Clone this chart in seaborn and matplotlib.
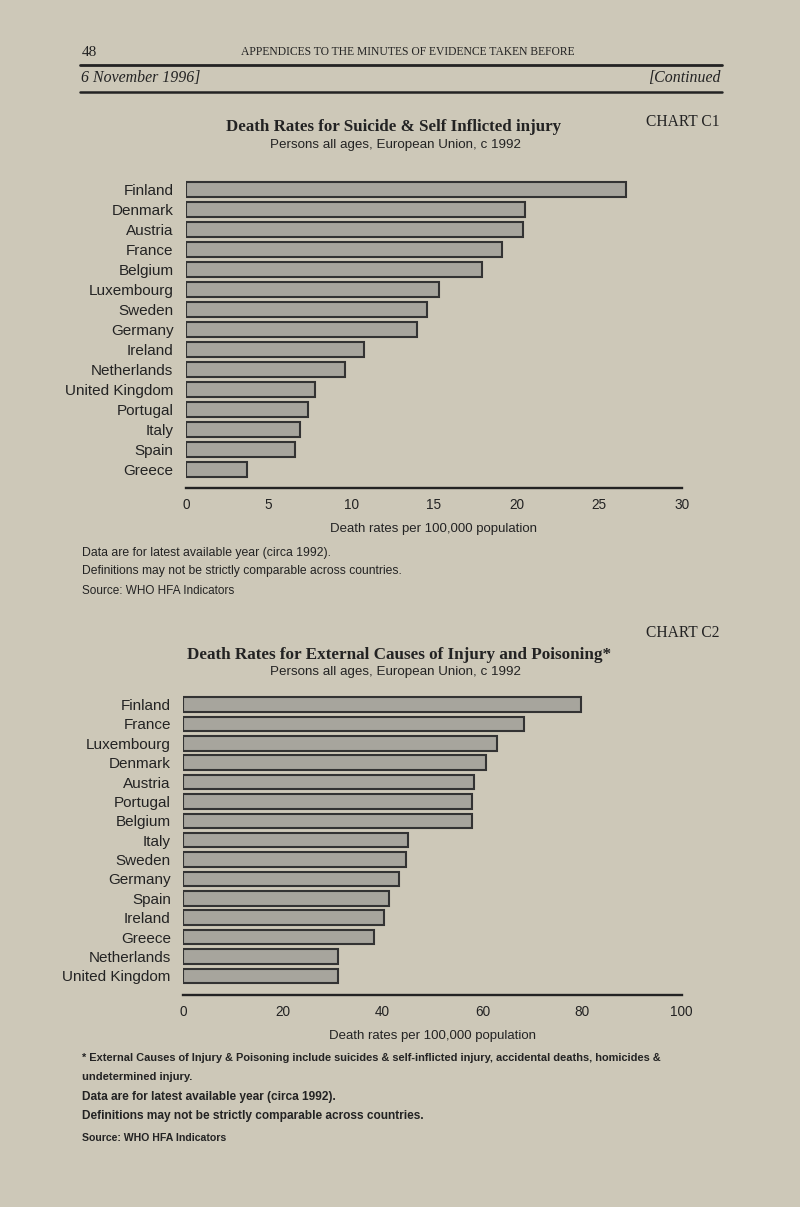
import matplotlib
matplotlib.use("Agg")
import matplotlib.pyplot as plt
import seaborn as sns
import pandas as pd
from matplotlib.lines import Line2D

# Chart C1: suicide & self inflicted injury, deaths per 100,000
c1_countries = ["Finland", "Denmark", "Austria", "France", "Belgium", "Luxembourg",
                "Sweden", "Germany", "Ireland", "Netherlands", "United Kingdom",
                "Portugal", "Italy", "Spain", "Greece"]
c1_rates = [26.6, 20.5, 20.4, 19.1, 17.9, 15.3, 14.6, 14.0, 10.8, 9.6, 7.8, 7.4, 6.9, 6.6, 3.7]
c1_ticks = [0, 5, 10, 15, 20, 25, 30]

# Chart C2: external causes of injury and poisoning, deaths per 100,000
c2_countries = ["Finland", "France", "Luxembourg", "Denmark", "Austria", "Portugal",
                "Belgium", "Italy", "Sweden", "Germany", "Spain", "Ireland",
                "Greece", "Netherlands", "United Kingdom"]
c2_rates = [79.8, 68.4, 62.9, 60.8, 58.3, 58.0, 57.9, 45.1, 44.6, 43.3, 41.3, 40.2, 38.3, 31.1, 31.1]
c2_ticks = [0, 20, 40, 60, 80, 100]

paper = "#cdc8b8"
bar_fill = "#a7a59d"
bar_edge = "#333333"
ink = "#232323"

sns.set_theme(style="white")
plt.rcParams["font.family"] = ["Liberation Sans", "DejaVu Sans"]
plt.rcParams["text.color"] = ink
plt.rcParams["axes.labelcolor"] = ink
plt.rcParams["xtick.color"] = ink
plt.rcParams["ytick.color"] = ink

W, H = 800, 1207
fig = plt.figure(figsize=(W / 100, H / 100), dpi=100)
fig.patch.set_facecolor(paper)


def px_axes(left, top, right, bottom):
    return fig.add_axes([left / W, 1 - bottom / H, (right - left) / W, (bottom - top) / H])


def txt(x, y, s, **kw):
    kw.setdefault("va", "center")
    fig.text(x / W, 1 - y / H, s, **kw)


def hline(x0, x1, y, lw):
    fig.add_artist(Line2D([x0 / W, x1 / W], [1 - y / H, 1 - y / H],
                          transform=fig.transFigure, color=ink, lw=lw))


def draw_chart(ax, countries, rates, ticks, ymax):
    df = pd.DataFrame({"country": countries, "rate": rates})
    sns.barplot(data=df, x="rate", y="country", orient="h", color=bar_fill,
                saturation=1, edgecolor=bar_edge, linewidth=1.5, width=0.75, ax=ax)
    ax.set_xlim(ticks[0], ticks[-1])
    ax.set_ylim(ymax, -0.6)
    ax.set_xticks(ticks)
    ax.set_facecolor("none")
    for side in ["top", "right", "left"]:
        ax.spines[side].set_visible(False)
    ax.spines["bottom"].set_linewidth(1.7)
    ax.spines["bottom"].set_color(ink)
    ax.tick_params(axis="x", direction="out", length=4, width=1.4, pad=3, labelsize=9.8)
    ax.tick_params(axis="y", length=0, pad=9, labelsize=11)
    ax.set_xlabel("Death rates per 100,000 population", fontsize=9.5, labelpad=8)
    ax.set_ylabel("")


# page header
txt(82, 52, "48", family="Liberation Serif", fontsize=11)
txt(408, 52, "APPENDICES TO THE MINUTES OF EVIDENCE TAKEN BEFORE",
    family="Liberation Serif", fontsize=8.4, ha="center")
hline(80, 722, 64.5, 2.0)
txt(81, 78, "6 November 1996]", family="Liberation Serif", style="italic", fontsize=11.4)
txt(721, 78, "[Continued", family="Liberation Serif", style="italic", fontsize=11.4, ha="right")
hline(80, 722, 92, 1.8)

# chart C1
txt(720, 122, "CHART C1", family="Liberation Serif", fontsize=11.2, ha="right")
txt(394, 127, "Death Rates for Suicide & Self Inflicted injury",
    family="Liberation Serif", fontweight="bold", fontsize=12.2, ha="center")
txt(395, 145, "Persons all ages, European Union, c 1992", fontsize=9.6, ha="center")
ax1 = px_axes(186, 178, 681.7, 488)
draw_chart(ax1, c1_countries, c1_rates, c1_ticks, 14.95)
txt(82, 553, "Data are for latest available year (circa 1992).", fontsize=8.8)
txt(82, 571, "Definitions may not be strictly comparable across countries.", fontsize=8.7)
txt(82, 591, "Source: WHO HFA Indicators", fontsize=8.5)

# chart C2
txt(720, 633, "CHART C2", family="Liberation Serif", fontsize=11.2, ha="right")
txt(399, 655, "Death Rates for External Causes of Injury and Poisoning*",
    family="Liberation Serif", fontweight="bold", fontsize=12.3, ha="center")
txt(395, 672, "Persons all ages, European Union, c 1992", fontsize=9.6, ha="center")
ax2 = px_axes(183.3, 692.9, 681.7, 995)
draw_chart(ax2, c2_countries, c2_rates, c2_ticks, 14.99)

notes = [
    (1058, "* External Causes of Injury & Poisoning include suicides & self-inflicted injury, accidental deaths, homicides &", 7.95),
    (1077, "undetermined injury.", 8.1),
    (1097, "Data are for latest available year (circa 1992).", 8.6),
    (1116, "Definitions may not be strictly comparable across countries.", 8.6),
]
for y, line, size in notes:
    txt(82, y, line, fontweight="bold", fontsize=size)
txt(82, 1138, "Source: WHO HFA Indicators", fontweight="bold", fontsize=7.6)

fig.savefig("out.png", dpi=100, facecolor=fig.get_facecolor())
